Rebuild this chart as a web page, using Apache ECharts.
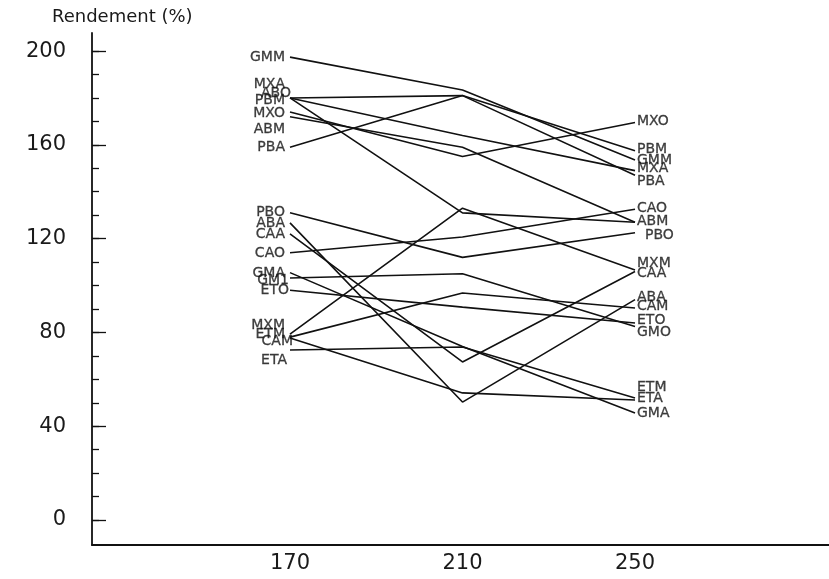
<!DOCTYPE html>
<html>
<head>
<meta charset="utf-8">
<script src="https://cdn.jsdelivr.net/npm/echarts@6/dist/echarts.min.js"></script>
<style>html,body{margin:0;padding:0;background:#fff}#c{width:829px;height:579px}</style>
</head>
<body>
<div id="c"></div>
<script>
// ---- data ----
const temps = [170, 210, 250];
const xTickLabels = [170, 210, 250];
const yTickLabels = [0, 40, 80, 120, 160, 200];
const yMinorTicks = [0,10,20,30,40,50,60,70,80,90,100,110,120,130,140,150,160,170,180,190,200];

const GMM = [197.4, 183.4, 153.5];
const MXA = [180, 164, 149];
const ABO = [180, 131, 127];
const PBM = [180, 181, 157.5];
const MXO = [174, 155, 169.5];
const ABM = [172, 159, 127];
const PBA = [159, 181, 147];
const PBO = [131, 112, 122.5];
const ABA = [126.7, 50.3, 94];
const CAA = [122, 67.4, 106];
const CAO = [114, 120.7, 132.5];
const GMA = [105.5, 74, 45.6];
const GMO = [103.2, 105, 82.5];
const ETO = [98, 90.8, 84];
const MXM = [79.3, 133, 106.6];
const ETM = [77.6, 54.2, 51.2];
const CAM = [78, 96.8, 90.4];
const ETA = [72.5, 73.8, 52];

const seriesNames = ['GMM','MXA','ABO','PBM','MXO','ABM','PBA','PBO','ABA','CAA','CAO','GMA','GMO','ETO','MXM','ETM','CAM','ETA'];
const seriesValues = [GMM,MXA,ABO,PBM,MXO,ABM,PBA,PBO,ABA,CAA,CAO,GMA,GMO,ETO,MXM,ETM,CAM,ETA];

// label texts and the heights (in % units) at which they are written
const leftLabels = ['GMM','MXA','ABO','PBM','MXO','ABM','PBA','PBO','ABA','CAA','CAO','GMA','GM1','ETO','MXM','ETM','CAM','ETA'];
const leftLabelVals = [197.4, 186, 182, 179, 173.6, 166.7, 159, 131, 126.7, 122, 113.9, 105, 102, 98, 83, 79, 76, 68];
const rightLabels = ['MXO','PBM','GMM','MXA','PBA','CAO','ABM','PBO','MXM','CAA','ABA','CAM','ETO','GMO','ETM','ETA','GMA'];
const rightLabelVals = [170, 158, 153.5, 150, 144.6, 133, 127.5, 121.5, 109.6, 105, 95, 91, 85, 80, 56.7, 52, 45.6];

// ---- style (horizontal nudges of individual labels, px) ----
const leftDx = {ABO: 6, GM1: 4, ETO: 4, CAM: 8, ETA: 2};
const rightDx = {PBO: 8};

const FONT = 'DejaVu Sans';
const chart = echarts.init(document.getElementById('c'), null, {renderer: 'canvas'});

const series = seriesValues.map((vals, i) => ({
  name: seriesNames[i],
  type: 'line',
  data: temps.map((t, j) => [t, vals[j]]),
  symbol: 'none',
  silent: true,
  lineStyle: {color: '#111', width: 1.6},
  z: 2
}));

const labelStyle = {fontFamily: FONT, fontSize: 14, color: '#111', textBorderColor: '#111', textBorderWidth: 0.3};

series.push({
  type: 'scatter',
  symbolSize: 0,
  silent: true,
  data: leftLabels.map((n, i) => ({
    value: [temps[0], leftLabelVals[i]],
    label: {offset: [leftDx[n] || 0, 0]}
  })),
  label: Object.assign({
    show: true, position: 'left', distance: 5,
    formatter: p => leftLabels[p.dataIndex]
  }, labelStyle),
  z: 3
});
series.push({
  type: 'scatter',
  symbolSize: 0,
  silent: true,
  data: rightLabels.map((n, i) => ({
    value: [temps[2], rightLabelVals[i]],
    label: {offset: [rightDx[n] || 0, 0]}
  })),
  label: Object.assign({
    show: true, position: 'right', distance: 2,
    formatter: p => rightLabels[p.dataIndex]
  }, labelStyle),
  z: 3
});

const yMin = -10.66, yMax = 207.7;

chart.setOption({
  animation: false,
  backgroundColor: '#fff',
  grid: {left: 92, right: 0, top: 33, bottom: 34, containLabel: false},
  graphic: [{
    type: 'text', left: 52, top: 8,
    style: {text: 'Rendement (%)', fontFamily: FONT, fontSize: 18, fill: '#1a1a1a'}
  }],
  xAxis: {
    type: 'value', min: 124.09, max: 294.98,
    axisLine: {show: true, onZero: false, lineStyle: {color: '#111', width: 1.8}},
    axisTick: {show: false},
    splitLine: {show: false},
    axisLabel: {
      customValues: xTickLabels, margin: 8,
      fontFamily: FONT, fontSize: 21, color: '#1a1a1a'
    }
  },
  yAxis: [{
    type: 'value', min: yMin, max: yMax,
    axisLine: {show: true, onZero: false, lineStyle: {color: '#111', width: 1.8}},
    axisTick: {show: true, inside: true, length: 14, customValues: yTickLabels, lineStyle: {color: '#111', width: 1.3}},
    splitLine: {show: false},
    axisLabel: {
      customValues: yTickLabels, margin: 26,
      fontFamily: FONT, fontSize: 21, color: '#1a1a1a'
    }
  }, {
    type: 'value', min: yMin, max: yMax, position: 'left',
    axisLine: {show: false, onZero: false},
    axisTick: {show: true, inside: true, length: 7, customValues: yMinorTicks, lineStyle: {color: '#111', width: 1.3}},
    splitLine: {show: false},
    axisLabel: {show: false}
  }],
  series: series
});
</script>
</body>
</html>
